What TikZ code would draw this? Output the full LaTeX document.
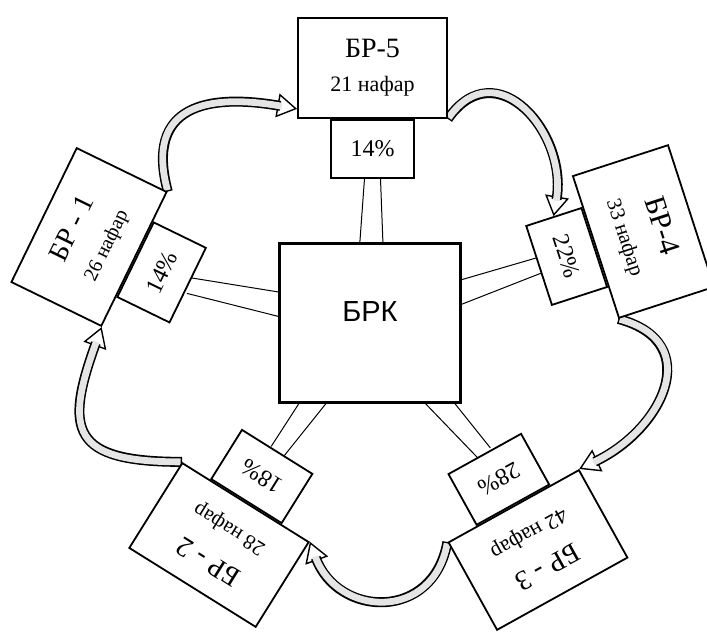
\documentclass[tikz,border=0pt]{standalone}
\usepackage{fontspec}
\setmainfont{Liberation Serif}
\newfontfamily\brkfont{Liberation Sans}
\usetikzlibrary{calc, arrows.meta, backgrounds}

\tikzset{
  unitbox/.style={draw, line width=0.9pt, fill=white, minimum width=74.5pt,
    minimum height=50pt, inner sep=1pt, align=center, font=\fontsize{14}{16}\selectfont},
  pctbox/.style={draw, line width=0.9pt, fill=white, minimum width=41.5pt,
    minimum height=29pt, inner sep=1pt, anchor=north, font=\fontsize{12}{14}\selectfont},
  centre/.style={draw, line width=1.3pt, fill=white, minimum width=90.5pt,
    minimum height=79.5pt, text depth=11pt, font=\brkfont\fontsize{14.5}{16}\selectfont},
  link/.style={line width=0.5pt},
  flow/.style={line width=0.7pt, -{Triangle[open, fill=white, length=10pt, width=12pt]},
    postaction={draw, -, line width=5pt, black, shorten >=8.5pt},
    postaction={draw, -, line width=3.4pt, gray!20, shorten >=7.8pt, shorten <=0.7pt}},
}

\begin{document}
\begin{tikzpicture}[x=0.5pt, y=0.5pt]
  \useasboundingbox (0,0) rectangle (707,633);
  % centre
  \node[centre] (brk) at (370,310) {БРК};
  % units round the centre
  \node[unitbox] (b5) at (372.5,565) {БР-5\\[1pt]{\fontsize{11}{13}\selectfont 21 нафар}};
  \node[pctbox] (p5) at (b5.south) {14\%};
  \node[unitbox, rotate=64] (b1) at (89,396) {БР - 1\\[2pt]{\fontsize{10}{12}\selectfont 26 нафар}};
  \node[pctbox, rotate=64] (p1) at (b1.south) {14\%};
  \node[unitbox, rotate=-72] (b4) at (643.5,401.5) {{\fontsize{15}{17}\selectfont БР-4}\\[2pt]{\fontsize{10.5}{12}\selectfont 33 нафар}};
  \node[pctbox, rotate=-72] (p4) at (b4.south) {22\%};
  \node[unitbox, rotate=-151] (b3) at (538,83) {БР - 3\\[2pt]{\fontsize{11}{13}\selectfont 42 нафар}};
  \node[pctbox, rotate=-151] (p3) at (b3.south) {28\%};
  \node[unitbox, rotate=148] (b2) at (219,88) {БР - 2\\[2pt]{\fontsize{10.5}{12}\selectfont 28 нафар}};
  \node[pctbox, rotate=148] (p2) at (b2.south) {18\%};

  \begin{pgfonlayer}{background}
    % double links to the centre
    \foreach \i in {1,...,5} {
      \draw[link] ($(p\i.south)!4pt!90:(brk.center)$) -- ($(brk.center)!8pt!-90:(p\i.south)$);
      \draw[link] ($(p\i.south)!4pt!-90:(brk.center)$) -- ($(brk.center)!8pt!90:(p\i.south)$);
    }
    % curved arrows
    \draw[flow] (b1.south east) to[out=105, in=170, looseness=1.5] ([yshift=5pt]b5.south west);
    \draw[flow] (b5.south east) to[out=55, in=80, looseness=1.5] (p4.west);
    \draw[flow] (b4.south east) to[out=-15, in=25, looseness=1.5] (b3.south west);
    \draw[flow] (b3.south east) to[out=-100, in=-70, looseness=1.5] (b2.south west);
    \draw[flow] (b2.south east) to[out=180, in=-110, looseness=1.8] (b1.south west);
  \end{pgfonlayer}
\end{tikzpicture}
\end{document}
